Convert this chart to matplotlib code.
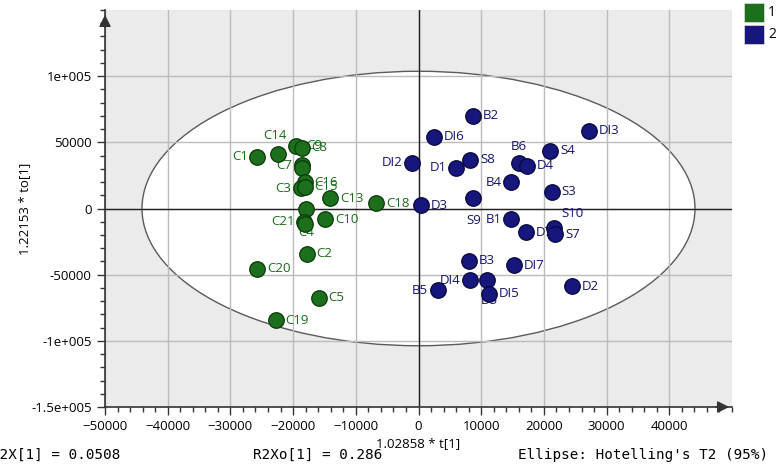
import matplotlib
matplotlib.use('Agg')
import matplotlib.pyplot as plt
from matplotlib.patches import Ellipse, Rectangle
from matplotlib.ticker import MultipleLocator, FuncFormatter

plt.rcParams['font.family'] = ['Open Sans', 'DejaVu Sans']

# class 1 (green) scores
c_names = ['C1', 'C14', 'C9', 'C8', 'C7', 'C6', 'C16', 'C3', 'C15', 'C13', 'C18',
           'C11', 'C21', 'C4', 'C10', 'C2', 'C20', 'C5', 'C19']
c_t = [-25680, -22380, -19510, -18660, -18610, -18610, -18180, -18710, -18130, -14040, -6700,
       -17970, -18230, -18180, -14880, -17820, -25680, -15900, -22760]
c_to = [39150, 41190, 47240, 45730, 32650, 30230, 19800, 15270, 16480, 7710, 3930,
        -380, -10200, -12090, -7940, -34170, -45500, -67420, -84280]

# class 2 (blue) scores
b_names = ['B2', 'DI6', 'DI3', 'DI2', 'D1', 'S8', 'B6', 'D4', 'S4', 'B4', 'S3', 'S9',
           'D3', 'B1', 'D7', 'S10', 'S7', 'B3', 'DI7', 'DI4', 'D5', 'DI5', 'B5', 'D2']
b_t = [8770, 2500, 27270, -1070, 6010, 8290, 16000, 17340, 21050, 14780, 21260, 8770,
       370, 14780, 17220, 21690, 21800, 8130, 15200, 8290, 10850, 11320, 3080, 24560]
b_to = [70140, 54270, 58580, 34620, 30610, 36660, 34620, 32350, 43460, 19800, 12700, 7940,
        2420, -8160, -17760, -14510, -19500, -39460, -42710, -54270, -54040, -64400, -61600, -58580]

hidden = ['C6', 'C11']
# label placement: (dx, dy in points, ha)
place = {
    'C1': (-7, 0, 'right'), 'C7': (-7, 0, 'right'), 'C3': (-7, 0, 'right'),
    'C21': (-7, 0, 'right'), 'C14': (-2, 13, 'center'), 'C4': (1, -6, 'center'),
    'DI2': (-7, 0, 'right'), 'D1': (-7, 0, 'right'), 'B4': (-7, 0, 'right'),
    'B1': (-7, 0, 'right'), 'B5': (-7, 0, 'right'), 'DI4': (-7, 0, 'right'),
    'B6': (0, 12, 'center'), 'S9': (0, -16, 'center'), 'S10': (13, 10, 'center'),
    'D5': (2, -15, 'center'),
}

green, green_edge, green_txt = '#1c701c', '#0a3a0a', '#1c6a1c'
blue, blue_edge, blue_txt = '#16167c', '#08083c', '#14146e'

fig = plt.figure(figsize=(7.76, 4.70), dpi=100)
ax = fig.add_axes([105 / 776, 63 / 470, 627 / 776, 397 / 470])
ax.set_facecolor('#ebebeb')
ax.set_xlim(-50000, 50000)
ax.set_ylim(-150000, 150000)

ax.add_patch(Ellipse((0, 0), 2 * 44100, 2 * 103700, facecolor='white',
                     edgecolor='#5a5a5a', lw=1, zorder=0.2))

ax.set_xticks(range(-50000, 50000, 10000))
ax.set_yticks(range(-150000, 150000, 50000))
ax.xaxis.set_minor_locator(MultipleLocator(2000))
ax.yaxis.set_minor_locator(MultipleLocator(10000))


def fmt(v, pos):
    if abs(v) >= 100000:
        return '{:g}e+005'.format(v / 100000)
    return '{:d}'.format(int(v))


ax.yaxis.set_major_formatter(FuncFormatter(fmt))
ax.grid(True, which='major', color='#bcbcbc', lw=1, zorder=0.5)
ax.set_axisbelow(True)
ax.axhline(0, color='#222222', lw=1, zorder=1)
ax.axvline(0, color='#222222', lw=1, zorder=1)

for s in ['top', 'right']:
    ax.spines[s].set_visible(False)
for s in ['left', 'bottom']:
    ax.spines[s].set_color('#333333')
    ax.spines[s].set_linewidth(1.2)
ax.tick_params(which='major', length=6, width=1, color='#333333', labelsize=9.5)
ax.tick_params(which='minor', length=3.5, width=1, color='#333333')

ax.annotate('', xy=(1.0, 0), xytext=(0.97, 0), xycoords='axes fraction',
            arrowprops=dict(arrowstyle='-|>', color='#333333', lw=1, mutation_scale=18),
            annotation_clip=False)
ax.annotate('', xy=(0, 0.995), xytext=(0, 0.95), xycoords='axes fraction',
            arrowprops=dict(arrowstyle='-|>', color='#333333', lw=1, mutation_scale=18),
            annotation_clip=False)

ax.scatter(c_t, c_to, s=125, c=green, edgecolors=green_edge, linewidths=0.9, zorder=4)
ax.scatter(b_t, b_to, s=125, c=blue, edgecolors=blue_edge, linewidths=0.9, zorder=4)


def labels(names, xs, ys, col):
    for n, x, y in zip(names, xs, ys):
        if n in hidden:
            continue
        dx, dy, ha = place.get(n, (7, 0, 'left'))
        ax.annotate(n, (x, y), xytext=(dx, dy), textcoords='offset points',
                    ha=ha, va='center', fontsize=9.5, color=col, zorder=3)


labels(c_names, c_t, c_to, green_txt)
labels(b_names, b_t, b_to, blue_txt)

ax.set_xlabel('1.02858 * t[1]', fontsize=9.5, labelpad=3)
ax.set_ylabel('1.22153 * to[1]', fontsize=9.5)
ax.yaxis.set_label_coords(-74 / 627, 0.5)

# legend squares
for i, (lab, col) in enumerate([('1', green), ('2', blue)]):
    y0 = 1 - (3 + 22 * i + 19) / 470
    fig.patches.append(Rectangle((744 / 776, y0), 20 / 776, 19 / 470, transform=fig.transFigure,
                                 facecolor=col, edgecolor='#dddddd', lw=0.5))
    fig.text(768 / 776, y0 + 9.5 / 470, lab, fontsize=10, va='center', ha='left')

mono = ['DejaVu Sans Mono']
fig.text(-9 / 776, 15 / 470, 'R2X[1] = 0.0508', family=mono, fontsize=10.3, va='center')
fig.text(253 / 776, 15 / 470, 'R2Xo[1] = 0.286', family=mono, fontsize=10.3, va='center')
fig.text(768 / 776, 15 / 470, "Ellipse: Hotelling's T2 (95%)", family=mono, fontsize=10.3,
         va='center', ha='right')

fig.savefig('out.png', dpi=100)
